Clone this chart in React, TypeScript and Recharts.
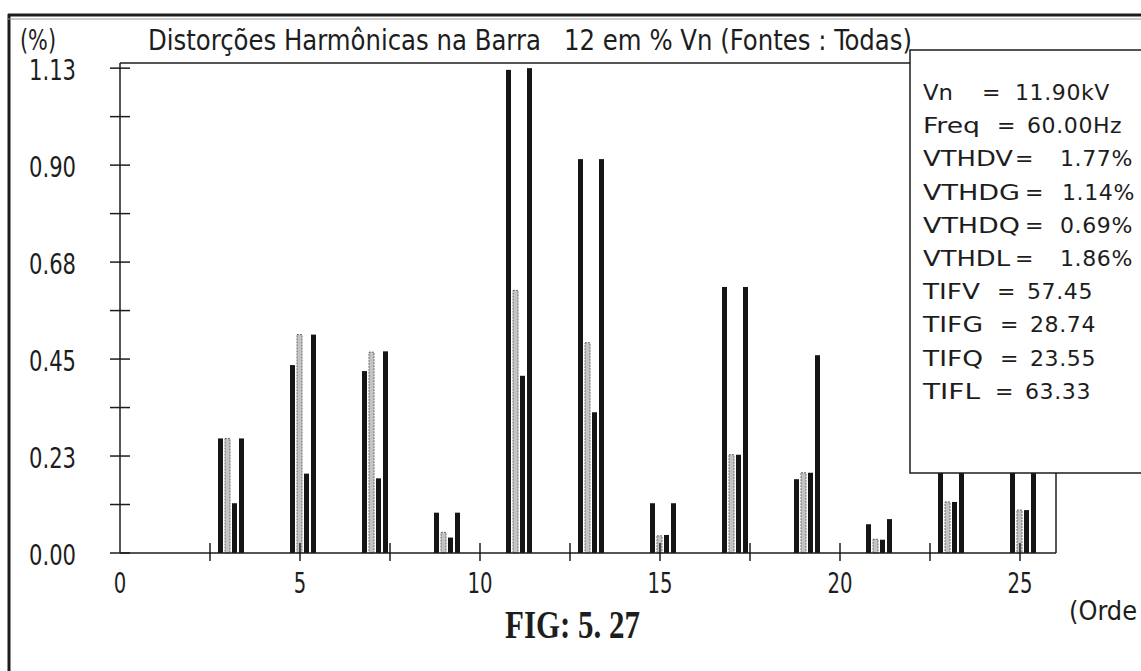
import { BarChart, Bar, XAxis, YAxis } from 'recharts';

// harmonic orders and the four source series (% of Vn)
const harmonics = [3, 5, 7, 9, 11, 13, 15, 17, 19, 21, 23, 25];
const seriesV = [0.267, 0.438, 0.424, 0.094, 1.126, 0.918, 0.116, 0.62, 0.172, 0.067, 0.27, 0.25];
const seriesG = [0.267, 0.509, 0.468, 0.048, 0.612, 0.49, 0.04, 0.229, 0.187, 0.032, 0.119, 0.1];
const seriesQ = [0.116, 0.185, 0.174, 0.036, 0.413, 0.328, 0.042, 0.229, 0.187, 0.031, 0.119, 0.1];
const seriesL = [0.267, 0.509, 0.47, 0.094, 1.13, 0.918, 0.116, 0.62, 0.461, 0.079, 0.28, 0.28];

const xTicks = [0, 2.5, 5, 7.5, 10, 12.5, 15, 17.5, 20, 22.5, 25];
const yTicks = [0, 0.113, 0.226, 0.339, 0.452, 0.565, 0.678, 0.791, 0.904, 1.017, 1.13];

const infoLabels = ['Vn', 'Freq', 'VTHDV', 'VTHDG', 'VTHDQ', 'VTHDL', 'TIFV', 'TIFG', 'TIFQ', 'TIFL'];
const infoValues = ['11.90kV', '60.00Hz', '1.77%', '1.14%', '0.69%', '1.86%', '57.45', '28.74', '23.55', '63.33'];

const data = harmonics.map((h, i) => ({
  h,
  V: seriesV[i],
  G: seriesG[i],
  Q: seriesQ[i],
  L: seriesL[i],
}));

const narrow = '"Liberation Sans Narrow", "DejaVu Sans Condensed", "DejaVu Sans", sans-serif';
const boxFont = '"DejaVu Sans", "Liberation Sans", sans-serif';
const ink = '#1d1d1d';

// label widths / "=" and value positions in the info box
const labelW = [30, 57, 90, 97, 97, 87, 57, 60, 60, 57];
const eqX = [982, 997, 1015, 1025, 1025, 1015, 997, 1000, 1000, 995];
const valX = [1015, 1027, 1060, 1062, 1060, 1060, 1027, 1030, 1030, 1025];

// the scanned bar groups sit a little right of their order tick
const shiftedBar = (fill: string, stroke?: string) => (p: any) => (
  <rect
    x={p.x + 3}
    y={p.y}
    width={p.width}
    height={p.height}
    fill={fill}
    stroke={stroke || 'none'}
    strokeWidth={stroke ? 1 : 0}
    strokeDasharray={stroke ? '2 1' : undefined}
  />
);

const YTick = (props: any) => {
  const { x, y, payload } = props;
  const major = Math.round(payload.value / 0.113) % 2 === 0;
  return (
    <g>
      <line x1={x - 10} x2={x + 10} y1={y} y2={y} stroke={ink} strokeWidth={1.5} />
      {major && (
        <text x={x - 91} y={y + 12} fontFamily={narrow} fontSize={28} fill={ink}
          textLength={47} lengthAdjust="spacingAndGlyphs">
          {payload.value.toFixed(2)}
        </text>
      )}
    </g>
  );
};

const XTick = (props: any) => {
  const { x, y, payload } = props;
  const major = payload.value % 5 === 0;
  const label = String(payload.value);
  return (
    <g>
      {payload.value > 0 && <line x1={x} x2={x} y1={y - 10} y2={y + 8} stroke={ink} strokeWidth={1.5} />}
      {major && (
        <text x={x} y={y + 40} textAnchor="middle" fontFamily={narrow} fontSize={28} fill={ink}
          textLength={label.length * 12.5} lengthAdjust="spacingAndGlyphs">
          {label}
        </text>
      )}
    </g>
  );
};

export default function App() {
  return (
    <div style={{ position: 'absolute', left: 0, top: 0, width: 1141, height: 671, overflow: 'hidden', background: '#fff' }}>
      <BarChart
        width={1141}
        height={671}
        data={data}
        margin={{ top: 63, right: 85, left: 60, bottom: 68 }}
        barSize={5}
        barGap={2}
      >
        <XAxis
          dataKey="h"
          type="number"
          domain={[0, 26]}
          ticks={xTicks}
          interval={0}
          height={50}
          tickSize={0}
          tickMargin={0}
          tickLine={false}
          tick={<XTick />}
          axisLine={{ stroke: ink, strokeWidth: 1.5 }}
        />
        <YAxis
          type="number"
          domain={[0, 1.142]}
          ticks={yTicks}
          interval={0}
          width={60}
          tickSize={0}
          tickMargin={0}
          tickLine={false}
          tick={<YTick />}
          axisLine={{ stroke: ink, strokeWidth: 1.5 }}
        />
        <Bar dataKey="V" fill="#151515" shape={shiftedBar('#151515')} isAnimationActive={false} />
        <Bar dataKey="G" fill="#c4c4c4" shape={shiftedBar('#c4c4c4', '#6a6a6a')} isAnimationActive={false} />
        <Bar dataKey="Q" fill="#151515" shape={shiftedBar('#151515')} isAnimationActive={false} />
        <Bar dataKey="L" fill="#151515" shape={shiftedBar('#151515')} isAnimationActive={false} />
      </BarChart>

      <svg
        width={1141}
        height={671}
        style={{ position: 'absolute', left: 0, top: 0, pointerEvents: 'none' }}
      >
        {/* outer frame */}
        <line x1={9} x2={9} y1={14} y2={671} stroke={ink} strokeWidth={3} />
        <line x1={8} x2={1141} y1={15} y2={15} stroke={ink} strokeWidth={3} />
        <line x1={8} x2={1141} y1={19} y2={19} stroke="#999" strokeWidth={1} />

        {/* plot frame */}
        <line x1={120} x2={910} y1={63} y2={63} stroke={ink} strokeWidth={1.5} />
        <line x1={1056} x2={1056} y1={473} y2={553} stroke={ink} strokeWidth={1.5} />

        {/* header */}
        <text x={20} y={50} fontFamily={narrow} fontSize={28} fill={ink}
          textLength={36} lengthAdjust="spacingAndGlyphs">(%)</text>
        <text
          x={148}
          y={50}
          fontFamily={narrow}
          fontSize={28}
          fill={ink}
          textLength={764}
          lengthAdjust="spacingAndGlyphs"
          style={{ whiteSpace: 'pre' }}
        >
          {'Distorções Harmônicas na Barra   12 em % Vn (Fontes : Todas)'}
        </text>

        {/* info box */}
        <rect x={910} y={50} width={240} height={423} fill="#fff" stroke={ink} strokeWidth={1.5} />
        {infoLabels.map((lab, i) => (
          <g key={lab}>
            <text x={923} y={100 + i * 33.2} fontFamily={boxFont} fontSize={22} fill={ink}
              textLength={labelW[i]} lengthAdjust="spacingAndGlyphs">{lab}</text>
            <text x={eqX[i]} y={100 + i * 33.2} fontFamily={boxFont} fontSize={22} fill={ink}>=</text>
            <text x={valX[i]} y={100 + i * 33.2} fontFamily={boxFont} fontSize={22} fill={ink}
              letterSpacing={0.6}>{infoValues[i]}</text>
          </g>
        ))}

        {/* caption */}
        <text x={505} y={638} fontFamily="'Liberation Serif', 'Times New Roman', serif"
          fontWeight="bold" fontSize={40} fill={ink} textLength={135} lengthAdjust="spacingAndGlyphs">
          FIG: 5. 27
        </text>
        <text x={1069} y={620} fontFamily={narrow} fontSize={26} fill={ink}
          textLength={68} lengthAdjust="spacingAndGlyphs">(Orde</text>
      </svg>
    </div>
  );
}
